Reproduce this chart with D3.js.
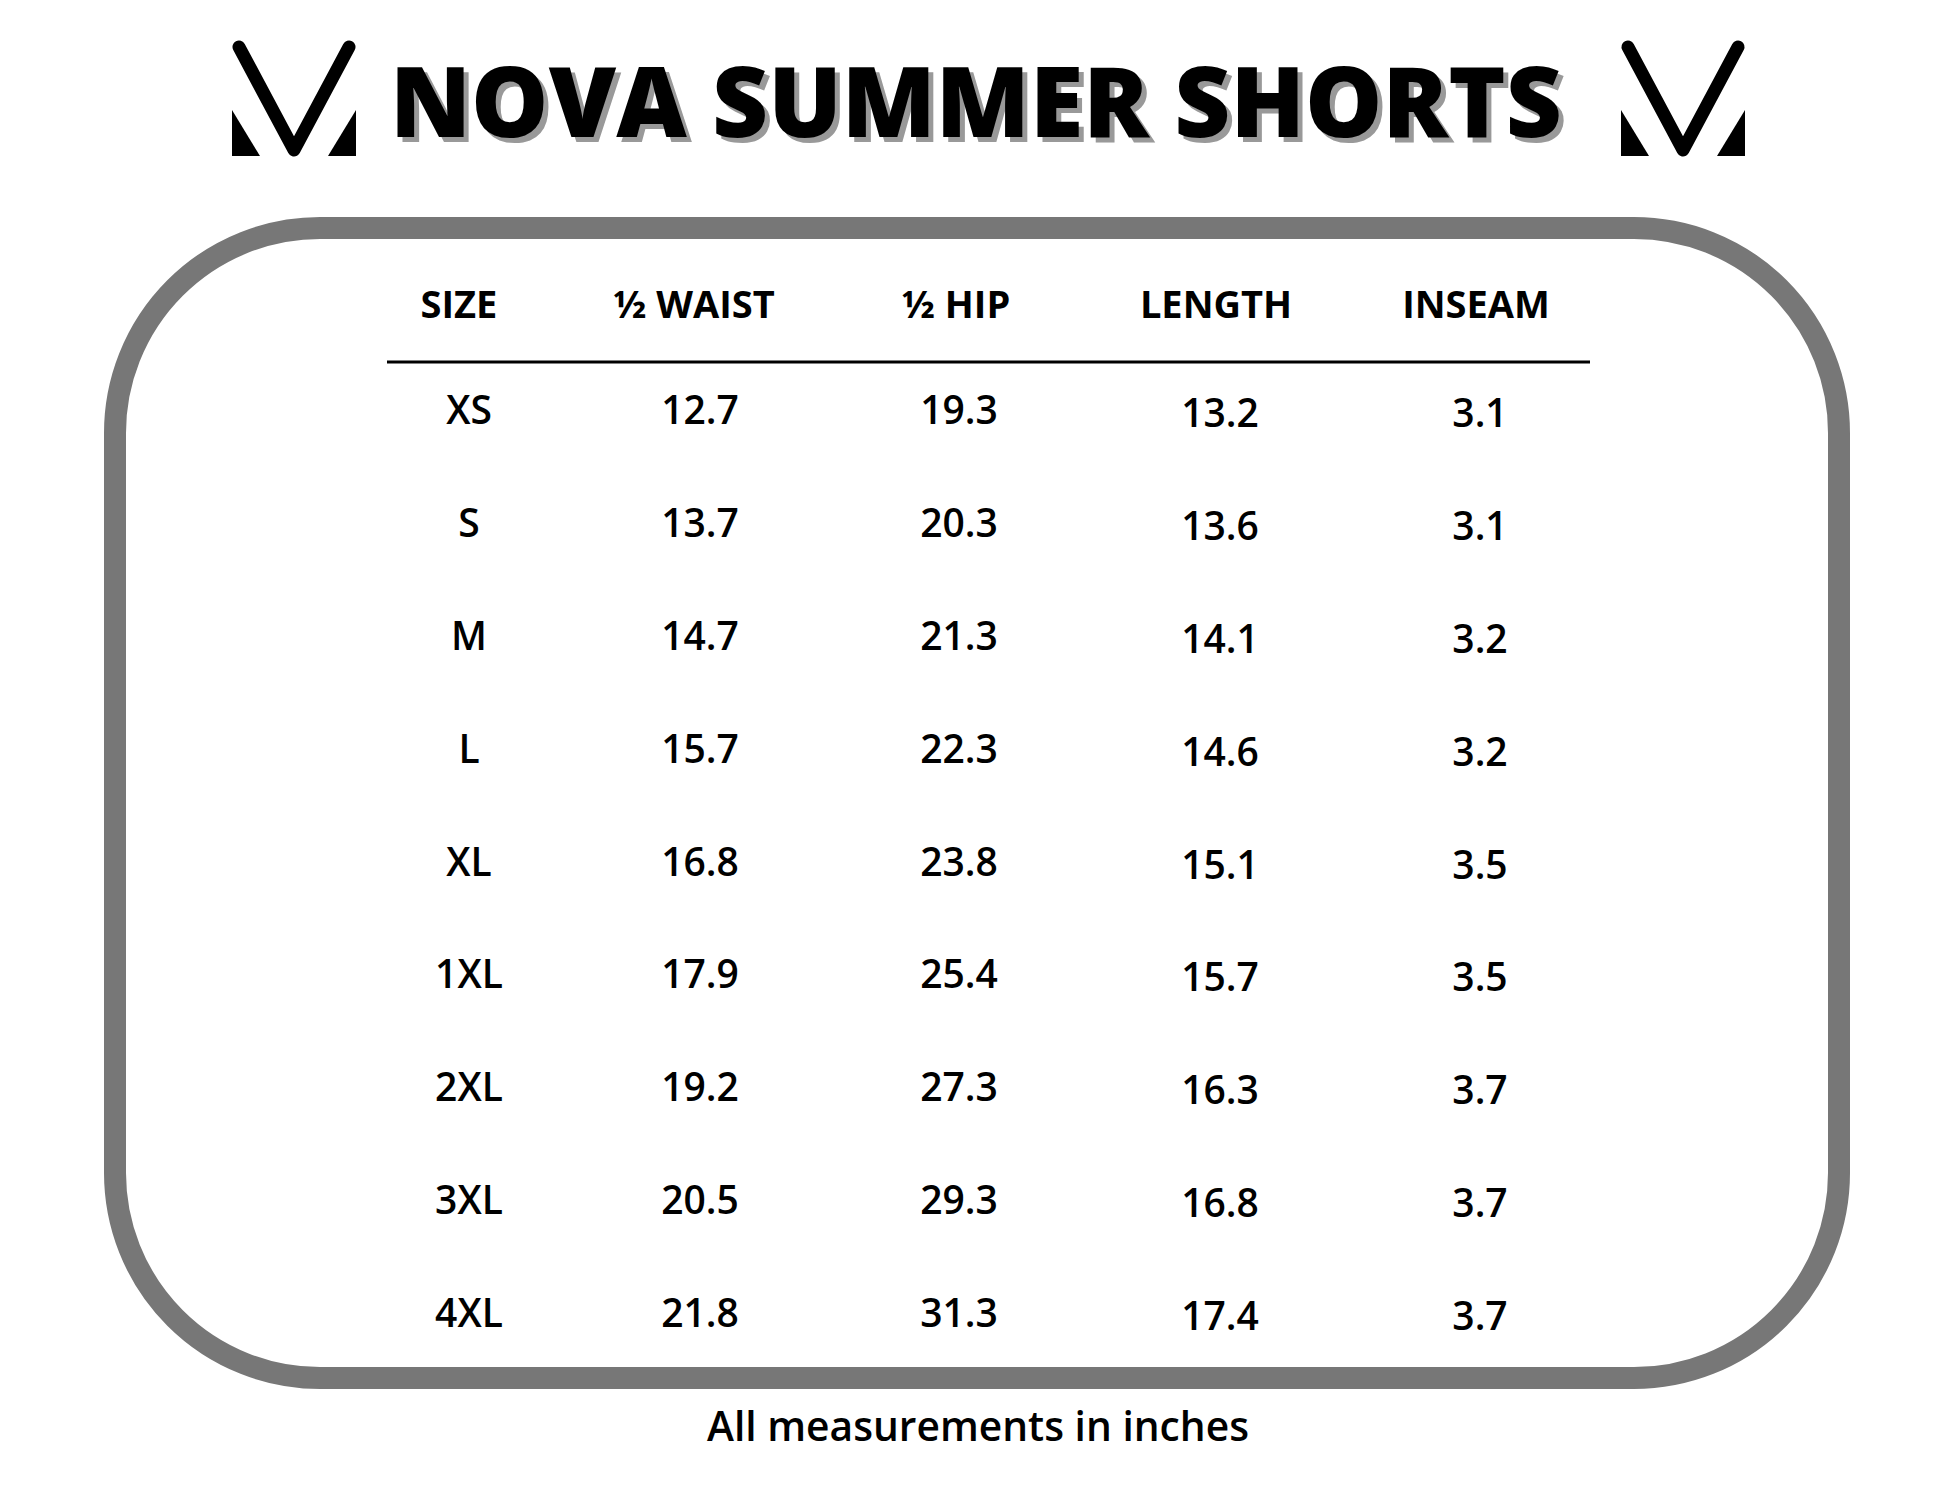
<!DOCTYPE html>
<html><head><meta charset="utf-8">
<script src="https://cdn.jsdelivr.net/npm/d3@7/dist/d3.min.js"></script>
<style>body{margin:0;background:#fff}</style></head>
<body><svg id="c" width="1946" height="1503"></svg>
<script>
const title = "NOVA SUMMER SHORTS";
const columns = ["SIZE", "½ WAIST", "½ HIP", "LENGTH", "INSEAM"];
const sizes = ["XS","S","M","L","XL","1XL","2XL","3XL","4XL"];
const waist = ["12.7","13.7","14.7","15.7","16.8","17.9","19.2","20.5","21.8"];
const hip = ["19.3","20.3","21.3","22.3","23.8","25.4","27.3","29.3","31.3"];
const length = ["13.2","13.6","14.1","14.6","15.1","15.7","16.3","16.8","17.4"];
const inseam = ["3.1","3.1","3.2","3.2","3.5","3.5","3.7","3.7","3.7"];
const footnote = "All measurements in inches";

const svg = d3.select("#c");
const F = "'Open Sans', Lato, sans-serif";

function logo(dx){
  const g = svg.append("g").attr("transform",`translate(${dx},0)`);
  g.append("polyline").attr("points","239,47 294,150 349,47").attr("fill","none")
   .attr("stroke","#000").attr("stroke-width",13).attr("stroke-linecap","round").attr("stroke-linejoin","round");
  g.append("path").attr("d","M232,110 L232,156 L260,156 Z").attr("fill","#000");
  g.append("path").attr("d","M356,110 L356,156 L328,156 Z").attr("fill","#000");
}
logo(0); logo(1389);

[["#999",5,5],["#000",0,0]].forEach(([c,dx,dy])=>{
  svg.append("text").attr("x",390+dx).attr("y",137+dy).attr("font-family",F).attr("font-weight",800)
   .attr("font-size",98).attr("fill",c).attr("textLength",1172).attr("lengthAdjust","spacingAndGlyphs").text(title);
});

svg.append("rect").attr("x",115).attr("y",228).attr("width",1724).attr("height",1150)
  .attr("rx",205).attr("ry",205).attr("fill","none").attr("stroke","#777").attr("stroke-width",22);

const hx = {"SIZE":459,"½ WAIST":694,"½ HIP":956,"LENGTH":1216,"INSEAM":1476};
svg.selectAll(".h").data(columns).join("text").attr("x",d=>hx[d]).attr("y",318)
  .attr("text-anchor","middle").attr("font-family",F).attr("font-weight",700).attr("font-size",38).text(d=>d);
svg.append("line").attr("x1",387).attr("x2",1590).attr("y1",362).attr("y2",362).attr("stroke","#000").attr("stroke-width",3);

const y = d3.scaleBand().domain(sizes).range([352,1367]);
const cx = [469,700,959,1220,1480];
const cols = [sizes,waist,hip,length,inseam];
cols.forEach((arr,ci)=>{
  svg.selectAll(".c"+ci).data(arr).join("text").attr("x",cx[ci])
    .attr("y",(d,i)=>y(sizes[i])+y.bandwidth()/2+16+(ci>=3?3:0))
    .attr("text-anchor","middle").attr("font-family",F).attr("font-weight",600).attr("font-size",39).text(d=>d);
});

svg.append("text").attr("x",978).attr("y",1441).attr("text-anchor","middle").attr("font-family",F)
  .attr("font-weight",600).attr("font-size",41).attr("textLength",542).attr("lengthAdjust","spacingAndGlyphs").text(footnote);
</script></body></html>
